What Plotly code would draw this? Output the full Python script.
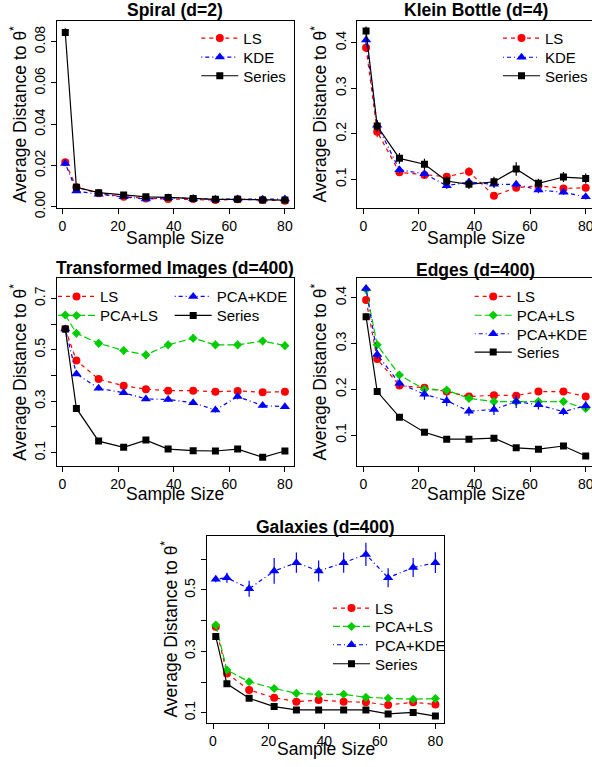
import plotly.graph_objects as go

W, H = 592, 767
FONT = "Liberation Sans, Arial, sans-serif"

# ---------------- data ----------------
sample_sizes = [1, 5, 13, 22, 30, 38, 47, 55, 63, 72, 80]
x_ticks = [0, 20, 40, 60, 80]

spiral_ls = [0.0215, 0.0094, 0.0065, 0.0048, 0.0040, 0.0037, 0.0037, 0.0032, 0.0036, 0.0032, 0.0029]
spiral_ls_err = [0.0008, 0.0005, 0.0004, 0.0003, 0.0003, 0.0003, 0.0003, 0.0003, 0.0003, 0.0002, 0.0002]
spiral_kde = [0.0210, 0.0076, 0.0060, 0.0048, 0.0037, 0.0044, 0.0040, 0.0036, 0.0037, 0.0036, 0.0037]
spiral_kde_err = [0.0008, 0.0005, 0.0004, 0.0003, 0.0003, 0.0003, 0.0003, 0.0003, 0.0003, 0.0003, 0.0003]
spiral_series = [0.0845, 0.0094, 0.0068, 0.0057, 0.0048, 0.0045, 0.0040, 0.0036, 0.0036, 0.0032, 0.0032]
spiral_series_err = [0.0020, 0.0005, 0.0004, 0.0003, 0.0003, 0.0003, 0.0003, 0.0003, 0.0003, 0.0002, 0.0002]

klein_ls = [0.389, 0.2045, 0.1153, 0.1094, 0.1057, 0.1167, 0.064, 0.0815, 0.086, 0.080, 0.0815]
klein_ls_err = [0.010, 0.012, 0.008, 0.008, 0.008, 0.010, 0.006, 0.007, 0.007, 0.006, 0.007]
klein_kde = [0.406, 0.219, 0.121, 0.112, 0.086, 0.094, 0.089, 0.089, 0.0765, 0.0714, 0.0615]
klein_kde_err = [0.010, 0.012, 0.008, 0.008, 0.007, 0.008, 0.008, 0.008, 0.007, 0.006, 0.006]
klein_series = [0.4256, 0.217, 0.146, 0.133, 0.0963, 0.089, 0.0947, 0.1226, 0.0912, 0.105, 0.102]
klein_series_err = [0.010, 0.012, 0.012, 0.012, 0.010, 0.010, 0.011, 0.015, 0.010, 0.011, 0.011]

tr_ls = [0.581, 0.458, 0.386, 0.360, 0.347, 0.341, 0.341, 0.337, 0.340, 0.335, 0.337]
tr_ls_err = [0.008, 0.008, 0.007, 0.006, 0.006, 0.006, 0.006, 0.006, 0.006, 0.006, 0.006]
tr_pcals = [0.635, 0.564, 0.525, 0.497, 0.480, 0.519, 0.545, 0.519, 0.519, 0.534, 0.516]
tr_pcals_err = [0.010, 0.016, 0.015, 0.016, 0.016, 0.016, 0.016, 0.016, 0.016, 0.016, 0.016]
tr_pcakde = [0.581, 0.406, 0.350, 0.333, 0.309, 0.307, 0.294, 0.266, 0.318, 0.283, 0.279]
tr_pcakde_err = [0.008, 0.008, 0.008, 0.008, 0.008, 0.008, 0.008, 0.010, 0.010, 0.008, 0.008]
tr_series = [0.581, 0.272, 0.145, 0.121, 0.149, 0.114, 0.108, 0.1065, 0.114, 0.082, 0.1065]
tr_series_err = [0.008, 0.008, 0.006, 0.006, 0.010, 0.006, 0.006, 0.006, 0.006, 0.005, 0.006]

ed_ls = [0.395, 0.266, 0.208, 0.203, 0.195, 0.184, 0.187, 0.186, 0.195, 0.195, 0.184]
ed_ls_err = [0.008, 0.008, 0.007, 0.007, 0.007, 0.007, 0.007, 0.007, 0.007, 0.007, 0.007]
ed_pcals = [0.418, 0.297, 0.231, 0.200, 0.198, 0.180, 0.173, 0.173, 0.173, 0.173, 0.158]
ed_pcals_err = [0.008, 0.008, 0.007, 0.007, 0.007, 0.007, 0.007, 0.007, 0.007, 0.007, 0.007]
ed_pcakde = [0.420, 0.276, 0.213, 0.189, 0.175, 0.152, 0.156, 0.173, 0.166, 0.151, 0.164]
ed_pcakde_err = [0.008, 0.010, 0.010, 0.012, 0.012, 0.010, 0.012, 0.014, 0.010, 0.008, 0.010]
ed_series = [0.3585, 0.195, 0.139, 0.106, 0.091, 0.091, 0.093, 0.072, 0.069, 0.076, 0.054]
ed_series_err = [0.008, 0.007, 0.006, 0.006, 0.006, 0.006, 0.007, 0.006, 0.006, 0.006, 0.005]

ga_ls = [0.380, 0.228, 0.174, 0.149, 0.136, 0.141, 0.136, 0.134, 0.125, 0.134, 0.127]
ga_ls_err = [0.006, 0.005, 0.004, 0.004, 0.004, 0.004, 0.004, 0.004, 0.004, 0.004, 0.004]
ga_pcals = [0.386, 0.239, 0.201, 0.179, 0.163, 0.160, 0.160, 0.150, 0.147, 0.144, 0.146]
ga_pcals_err = [0.006, 0.005, 0.004, 0.004, 0.004, 0.004, 0.004, 0.004, 0.004, 0.004, 0.004]
ga_pcakde = [0.535, 0.540, 0.504, 0.562, 0.589, 0.562, 0.589, 0.616, 0.540, 0.573, 0.589]
ga_pcakde_err = [0.010, 0.016, 0.026, 0.042, 0.033, 0.034, 0.033, 0.038, 0.031, 0.031, 0.034]
ga_series = [0.348, 0.194, 0.147, 0.120, 0.109, 0.109, 0.109, 0.109, 0.096, 0.101, 0.089]
ga_series_err = [0.006, 0.005, 0.004, 0.004, 0.004, 0.004, 0.004, 0.004, 0.004, 0.004, 0.004]

# ---------------- styles ----------------
STYLES = {
    "LS": dict(color="#FF0000", symbol="circle", size=8, dash="4px,4px"),
    "KDE": dict(color="#0000FF", symbol="triangle-up", size=9, dash="1px,3px,4px,3px"),
    "PCA+KDE": dict(color="#0000FF", symbol="triangle-up", size=9, dash="1px,3px,4px,3px"),
    "PCA+LS": dict(color="#00CD00", symbol="diamond", size=7, dash="7px,3px"),
    "Series": dict(color="#000000", symbol="square", size=7, dash="solid"),
}

PXU = 2.78  # pixels per sample-size unit
XMIN = -2.16


def fx(p):
    return p / W


def fy(p):
    return 1 - p / H


panels = [
    dict(title="Spiral (d=2)", left=56.5, top=20.5, bottom=208, yr=[-0.00063, 0.0903],
         yt=[0, 0.02, 0.04, 0.06, 0.08], ytt=["0.00", "0.02", "0.04", "0.06", "0.08"], ym=[],
         title_y=10, xlab_y=238, right_cut=False,
         series=[("LS", spiral_ls, spiral_ls_err, 243.3, 38.3),
                 ("KDE", spiral_kde, spiral_kde_err, 243.3, 57.3),
                 ("Series", spiral_series, spiral_series_err, 243.3, 76)]),
    dict(title="Klein Bottle (d=4)", left=357.3, top=20.5, bottom=208, yr=[0.037, 0.4488],
         yt=[0.1, 0.2, 0.3, 0.4], ytt=["0.1", "0.2", "0.3", "0.4"], ym=[],
         title_y=10, xlab_y=238, right_cut=True,
         series=[("LS", klein_ls, klein_ls_err, 545, 38.3),
                 ("KDE", klein_kde, klein_kde_err, 545, 57.5),
                 ("Series", klein_series, klein_series_err, 545, 76)]),
    dict(title="Transformed Images (d=400)", left=56.5, top=278.3, bottom=466, yr=[0.0483, 0.7777],
         yt=[0.1, 0.3, 0.5, 0.7], ytt=["0.1", "0.3", "0.5", "0.7"], ym=[0.2, 0.4, 0.6],
         title_y=268.3, xlab_y=494, right_cut=False,
         series=[("LS", tr_ls, tr_ls_err, 100, 296.7),
                 ("PCA+LS", tr_pcals, tr_pcals_err, 100, 315.7),
                 ("PCA+KDE", tr_pcakde, tr_pcakde_err, 216.7, 296.7),
                 ("Series", tr_series, tr_series_err, 216.7, 315.7)]),
    dict(title="Edges (d=400)", left=357.3, top=278.3, bottom=466, yr=[0.0323, 0.4424],
         yt=[0.1, 0.2, 0.3, 0.4], ytt=["0.1", "0.2", "0.3", "0.4"], ym=[],
         title_y=270, xlab_y=494, right_cut=True,
         series=[("LS", ed_ls, ed_ls_err, 516.7, 296.7),
                 ("PCA+LS", ed_pcals, ed_pcals_err, 516.7, 315.5),
                 ("PCA+KDE", ed_pcakde, ed_pcakde_err, 516.7, 334),
                 ("Series", ed_series, ed_series_err, 516.7, 352.3)]),
    dict(title="Galaxies (d=400)", left=207, top=536, bottom=723, yr=[0.0664, 0.676],
         yt=[0.1, 0.3, 0.5], ytt=["0.1", "0.3", "0.5"], ym=[0.2, 0.4, 0.6],
         title_y=526.7, xlab_y=748.5, right_cut=False,
         series=[("LS", ga_ls, ga_ls_err, 375, 608.3),
                 ("PCA+LS", ga_pcals, ga_pcals_err, 375, 626.7),
                 ("PCA+KDE", ga_pcakde, ga_pcakde_err, 375, 645),
                 ("Series", ga_series, ga_series_err, 375, 664)]),
]

fig = go.Figure()
layout = dict(
    width=W, height=H, margin=dict(l=0, r=0, t=0, b=0, autoexpand=False),
    paper_bgcolor="white", plot_bgcolor="white",
    font=dict(family=FONT, size=14, color="black"),
    showlegend=True,
)
annotations = []
legend_count = 0
full_w = (83.16 - XMIN) * PXU

for i, p in enumerate(panels, start=1):
    xa = "xaxis" if i == 1 else f"xaxis{i}"
    ya = "yaxis" if i == 1 else f"yaxis{i}"
    xref = "x" if i == 1 else f"x{i}"
    yref = "y" if i == 1 else f"y{i}"
    right = W if p["right_cut"] else p["left"] + full_w
    xmax = XMIN + (right - p["left"]) / PXU
    layout[xa] = dict(domain=[fx(p["left"]), fx(right)], range=[XMIN, xmax], anchor=yref,
                      showline=True, linecolor="black", linewidth=1, mirror=True,
                      ticks="outside", ticklen=5, tickwidth=1, tickcolor="black",
                      tickmode="array", tickvals=x_ticks, ticktext=[str(v) for v in x_ticks],
                      ticklabeloverflow="allow",
                      showgrid=False, zeroline=False, tickfont=dict(size=14))
    yax = dict(domain=[fy(p["bottom"]), fy(p["top"])], range=p["yr"], anchor=xref,
               showline=True, linecolor="black", linewidth=1,
               mirror=(not p["right_cut"]),
               ticks="outside", ticklen=5, tickwidth=1, tickcolor="black",
               tickmode="array", tickvals=p["yt"], ticktext=p["ytt"], tickangle=-90,
               showgrid=False, zeroline=False, tickfont=dict(size=14))
    if p["ym"]:
        yax["minor"] = dict(tickmode="array", tickvals=p["ym"], ticks="outside", ticklen=5,
                            tickwidth=1, tickcolor="black", showgrid=False)
    layout[ya] = yax
    cx = p["left"] + full_w / 2
    cy = (p["top"] + p["bottom"]) / 2
    annotations.append(dict(text="<b>" + p["title"] + "</b>", x=fx(cx), y=fy(p["title_y"]),
                            xref="paper", yref="paper", showarrow=False,
                            xanchor="center", yanchor="middle", font=dict(size=17.5)))
    annotations.append(dict(text="Sample Size", x=fx(cx), y=fy(p["xlab_y"]),
                            xref="paper", yref="paper", showarrow=False,
                            xanchor="center", yanchor="middle", font=dict(size=17.5)))
    annotations.append(dict(text="Average Distance to θ<sup>*</sup>", x=fx(p["left"] - 38), y=fy(cy),
                            xref="paper", yref="paper", showarrow=False, textangle=-90,
                            xanchor="center", yanchor="middle", font=dict(size=17.5)))

    for name, vals, errs, tx, ty in p["series"]:
        st = STYLES[name]
        legend_count += 1
        lg = "legend" if legend_count == 1 else f"legend{legend_count}"
        fig.add_trace(go.Scatter(
            x=sample_sizes, y=vals, name=name, mode="lines+markers",
            xaxis=xref, yaxis=yref, legend=lg,
            line=dict(color=st["color"], width=1.2, dash=st["dash"]),
            marker=dict(color=st["color"], symbol=st["symbol"], size=st["size"], line=dict(width=0)),
            error_y=dict(type="data", array=errs, visible=True, width=0, thickness=1.2, color=st["color"]),
        ))
        layout[lg] = dict(x=fx(tx - 47), y=fy(ty), xanchor="left", yanchor="middle",
                          bgcolor="rgba(0,0,0,0)", borderwidth=0, itemwidth=37,
                          font=dict(size=15), tracegroupgap=0)

layout["annotations"] = annotations
fig.update_layout(**layout)
fig.write_html("out.html", config={"displayModeBar": False},
               post_script="document.body.style.margin='0px';document.body.style.overflow='hidden';")
